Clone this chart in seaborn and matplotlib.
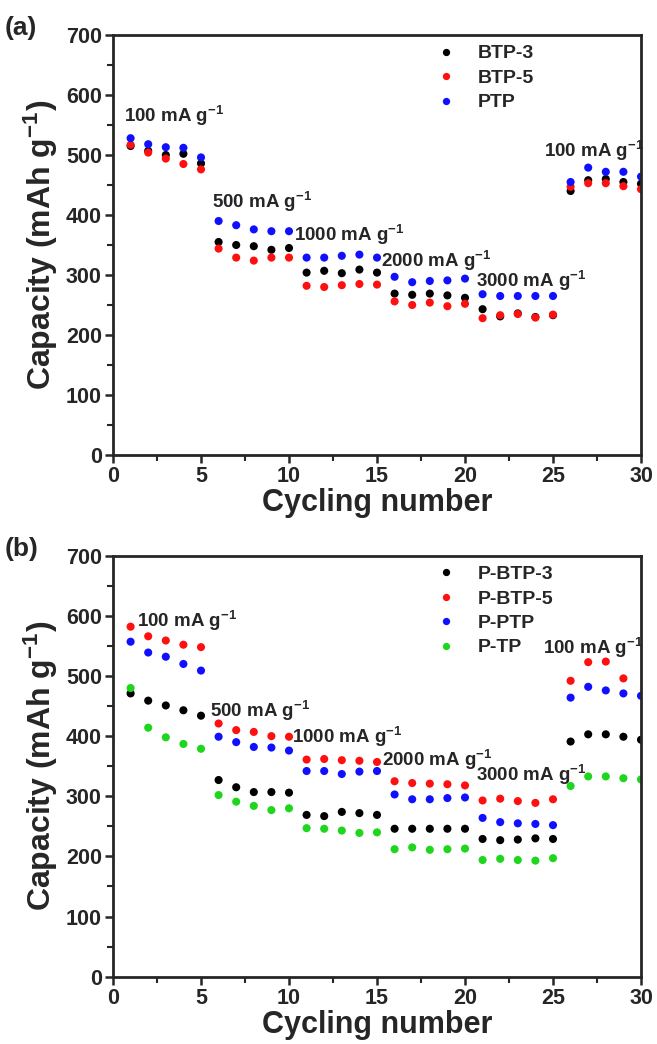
import numpy as np
import pandas as pd
import matplotlib
matplotlib.use("Agg")
import matplotlib.pyplot as plt
import seaborn as sns

# ---------------- data ----------------
cycles = list(range(1, 31))

# panel (a)
a_series = ["BTP-3", "BTP-5", "PTP"]
a_btp3 = [515, 507, 500, 502, 486, 355, 350, 348, 342, 345,
          304, 307, 303, 309, 304, 269, 267, 269, 266, 262,
          243, 231, 236, 230, 233, 440, 458, 460, 455, 452]
a_btp5 = [517, 504, 494, 485, 476, 344, 329, 324, 329, 329,
          282, 280, 283, 285, 284, 256, 250, 254, 248, 252,
          228, 233, 235, 229, 234, 447, 453, 453, 448, 443]
a_ptp = [528, 518, 513, 512, 496, 390, 383, 376, 373, 373,
         329, 329, 332, 334, 329, 297, 288, 290, 291, 294,
         268, 265, 265, 265, 265, 455, 479, 472, 472, 464]

# panel (b)
b_series = ["P-BTP-3", "P-BTP-5", "P-PTP", "P-TP"]
b_pbtp3 = [471, 459, 451, 443, 434, 327, 315, 307, 307, 306,
           269, 267, 274, 272, 269, 246, 246, 246, 246, 246,
           229, 227, 228, 230, 229, 391, 403, 403, 399, 394]
b_pbtp5 = [582, 566, 559, 552, 548, 421, 410, 407, 400, 399,
           361, 362, 360, 359, 357, 325, 322, 321, 320, 318,
           293, 296, 292, 289, 295, 492, 523, 524, 496, np.nan]
b_pptp = [557, 539, 532, 520, 509, 399, 390, 382, 381, 376,
          342, 342, 337, 341, 342, 303, 295, 295, 297, 298,
          264, 257, 255, 254, 252, 464, 482, 476, 471, 467]
b_ptp = [480, 414, 398, 387, 379, 302, 291, 284, 277, 280,
         247, 246, 243, 239, 240, 212, 215, 211, 212, 213,
         194, 196, 194, 193, 197, 317, 333, 333, 330, 328]

a_labels = ["100 mA g$^{-1}$", "500 mA g$^{-1}$", "1000 mA g$^{-1}$",
            "2000 mA g$^{-1}$", "3000 mA g$^{-1}$", "100 mA g$^{-1}$"]
a_label_xy = [(0.65, 565), (5.6, 422), (10.3, 367), (15.2, 323), (20.6, 290), (24.5, 506)]
b_labels = a_labels
b_label_xy = [(1.35, 591), (5.5, 442), (10.15, 399), (15.3, 361), (20.6, 335), (24.45, 546)]

a_colors = ["#000000", "#FF1010", "#1010FF"]
b_colors = ["#000000", "#FF1010", "#1010FF", "#1ED61E"]

# ---------------- style ----------------
sns.set_style("ticks")
plt.rcParams["font.family"] = ["Liberation Sans", "DejaVu Sans"]
plt.rcParams["font.weight"] = "bold"
plt.rcParams["mathtext.fontset"] = "custom"
plt.rcParams["mathtext.rm"] = "Liberation Sans:bold"
plt.rcParams["mathtext.bf"] = "Liberation Sans:bold"
plt.rcParams["mathtext.it"] = "Liberation Sans:bold"
plt.rcParams["mathtext.default"] = "bf"

fig = plt.figure(figsize=(6.57, 10.44), dpi=100)
L, W = 113 / 657, 528 / 657
ax_a = fig.add_axes([L, 1 - 455 / 1044, W, 420 / 1044])
ax_b = fig.add_axes([L, 1 - 976.7 / 1044, W, 421 / 1044])


def long_df(names, arrays):
    frames = []
    for n, arr in zip(names, arrays):
        frames.append(pd.DataFrame({"cycle": cycles, "cap": arr, "series": n}))
    return pd.concat(frames, ignore_index=True).dropna()


def draw(ax, names, arrays, colors, labels, label_xy, letter, leg_y):
    df = long_df(names, arrays)
    sns.scatterplot(data=df, x="cycle", y="cap", hue="series", hue_order=names,
                    palette=colors, s=34, linewidth=0, ax=ax, legend=True)
    ax.set_xlim(0, 30)
    ax.set_ylim(0, 700)
    ax.set_xticks(range(0, 31, 5))
    ax.set_yticks(range(0, 701, 100))
    ax.set_xticks(np.arange(2.5, 30, 5), minor=True)
    ax.set_yticks(range(50, 700, 100), minor=True)
    ax.tick_params(axis="both", which="major", direction="out", length=6, width=1.8,
                   labelsize=15.5, pad=2)
    ax.tick_params(axis="both", which="minor", direction="out", length=4, width=1.5)
    for lab in ax.get_xticklabels() + ax.get_yticklabels():
        lab.set_fontweight("bold")
    for sp in ax.spines.values():
        sp.set_linewidth(2)
        sp.set_visible(True)
    ax.set_xlabel("Cycling number", fontsize=22, fontweight="bold", labelpad=1)
    ax.set_ylabel("Capacity (mAh g$^{-1}$)", fontsize=23, fontweight="bold", labelpad=4)
    for t, (x, y) in zip(labels, label_xy):
        ax.text(x, y, t, fontsize=13.5, fontweight="bold", va="center", ha="left")
    handles, hl = ax.get_legend_handles_labels()
    leg = ax.legend(handles, hl, loc="upper left", bbox_to_anchor=(0.58, leg_y),
                    frameon=False, fontsize=14, handletextpad=0.6,
                    labelspacing=0.35, markerscale=0.9, borderaxespad=0)
    for txt in leg.get_texts():
        txt.set_fontweight("bold")
    ax.text(-0.205, 1.017, letter, transform=ax.transAxes, fontsize=19,
            fontweight="bold", va="center", ha="left")


draw(ax_a, a_series, [a_btp3, a_btp5, a_ptp], a_colors, a_labels, a_label_xy, "(a)", 0.995)
draw(ax_b, b_series, [b_pbtp3, b_pbtp5, b_pptp, b_ptp], b_colors, b_labels, b_label_xy, "(b)", 0.995)

fig.savefig("out.png", dpi=100)
